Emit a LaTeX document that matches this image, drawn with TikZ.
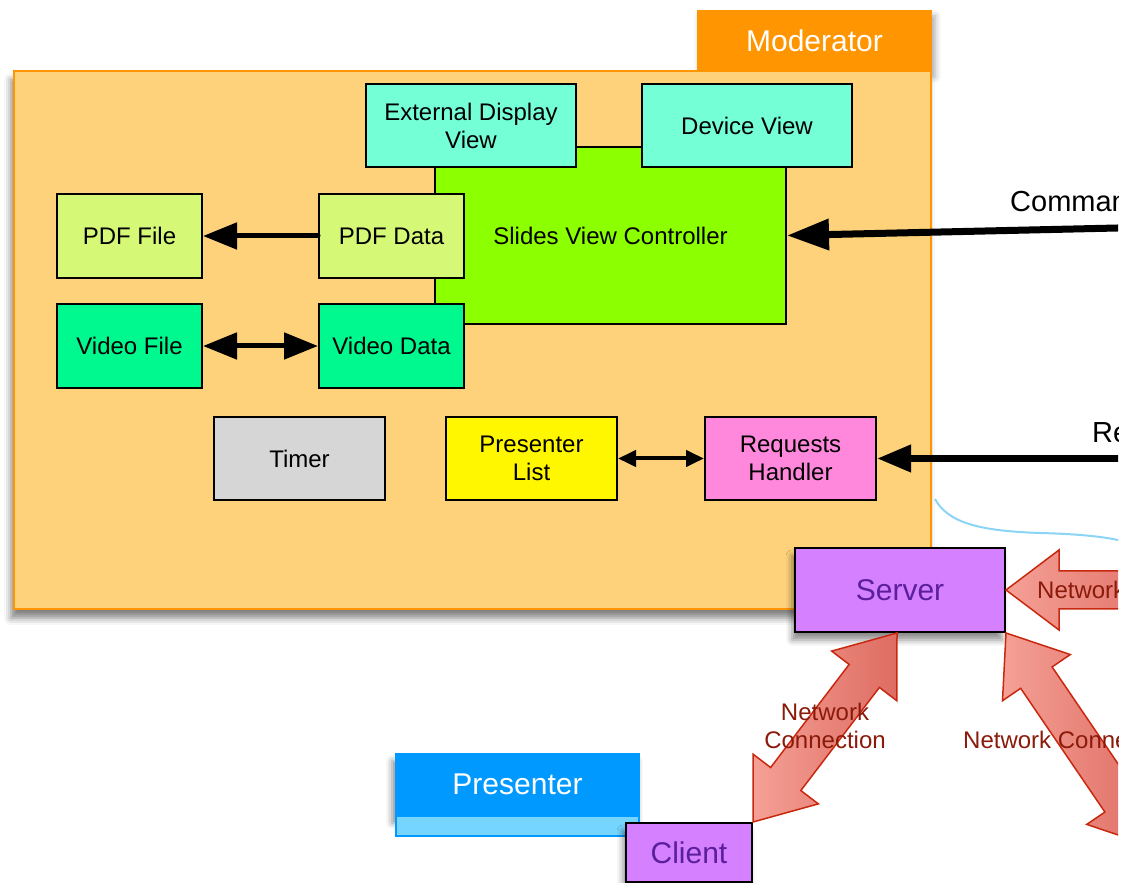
\documentclass[tikz,border=0pt]{standalone}
\usepackage{fontspec}
\setmainfont{Liberation Sans}
\usetikzlibrary{arrows.meta,calc,positioning,shadows,shadows.blur}

\definecolor{modfill}{RGB}{253,210,122}
\definecolor{modorange}{RGB}{255,149,0}
\definecolor{viewcol}{RGB}{116,255,214}
\definecolor{svccol}{RGB}{140,255,0}
\definecolor{pdfcol}{RGB}{213,249,119}
\definecolor{videocol}{RGB}{0,249,143}
\definecolor{timercol}{RGB}{214,214,214}
\definecolor{listcol}{RGB}{255,247,0}
\definecolor{reqcol}{RGB}{255,136,220}
\definecolor{servcol}{RGB}{213,128,255}
\definecolor{servtext}{RGB}{91,31,158}
\definecolor{presblue}{RGB}{0,153,255}
\definecolor{preslight}{RGB}{117,213,255}
\definecolor{netlight}{RGB}{245,160,150}
\definecolor{netdark}{RGB}{222,108,98}
\definecolor{netedge}{RGB}{200,40,15}
\definecolor{nettext}{RGB}{139,26,10}
\definecolor{wirecol}{RGB}{140,212,245}

\tikzset{
compbox/.style={
  rectangle,
  line width=2pt,
  draw=black,
  inner sep=0pt,
  align=center,
  font=\fontsize{24}{28}\selectfont,
  }
}
\tikzset{
bigbox/.style={
  rectangle,
  line width=2pt,
  draw=black,
  inner sep=0pt,
  align=center,
  fill=servcol,
  text=servtext,
  font=\fontsize{30}{34}\selectfont,
  blur shadow={shadow xshift=-3pt, shadow yshift=-8pt, shadow blur radius=6pt, shadow opacity=45},
  }
}
\tikzset{
tabbox/.style={
  rectangle,
  inner sep=0pt,
  text=white,
  font=\fontsize{30}{34}\selectfont,
  }
}
\tikzset{
fatline/.style={
  line width=5pt,
  line cap=round,
  -{Triangle[length=34pt,width=26pt]}
  }
}
\tikzset{
netlabel/.style={
  text=nettext,
  align=center,
  inner sep=0pt,
  font=\fontsize{24}{28}\selectfont,
  }
}
\tikzset{
netlink/.style={
  draw=netedge, line width=1.5pt, left color=netlight, right color=netdark,
  to path={
    let \p1=(\tikztostart), \p2=(\tikztotarget),
        \n1={atan2(\y2-\y1,\x2-\x1)}, \n2={veclen(\x2-\x1,\y2-\y1)} in
    -- ($(\p1)+(\n1:54pt)+(\n1+90:41pt)$)
    -- ($(\p1)+(\n1:54pt)+(\n1+90:19pt)$)
    -- ($(\p1)+(\n1:\n2-54pt)+(\n1+90:19pt)$)
    -- ($(\p1)+(\n1:\n2-54pt)+(\n1+90:41pt)$)
    -- (\p2)
    -- ($(\p1)+(\n1:\n2-54pt)+(\n1-90:41pt)$)
    -- ($(\p1)+(\n1:\n2-54pt)+(\n1-90:19pt)$)
    -- ($(\p1)+(\n1:54pt)+(\n1-90:19pt)$)
    -- ($(\p1)+(\n1:54pt)+(\n1-90:41pt)$)
    -- cycle
  }
  }
}
\tikzset{
netlinkone/.style={
  draw=netedge, line width=1.5pt, left color=netlight, right color=netdark,
  to path={
    let \p1=(\tikztostart), \p2=(\tikztotarget),
        \n1={atan2(\y2-\y1,\x2-\x1)}, \n2={veclen(\x2-\x1,\y2-\y1)} in
    ($(\p1)+(\n1+90:19pt)$)
    -- ($(\p1)+(\n1:\n2-53pt)+(\n1+90:19pt)$)
    -- ($(\p1)+(\n1:\n2-53pt)+(\n1+90:40pt)$)
    -- (\p2)
    -- ($(\p1)+(\n1:\n2-53pt)+(\n1-90:40pt)$)
    -- ($(\p1)+(\n1:\n2-53pt)+(\n1-90:19pt)$)
    -- ($(\p1)+(\n1-90:19pt)$)
    -- cycle
  }
  }
}

\begin{document}
\begin{tikzpicture}[x=1pt,y=1pt]
    \useasboundingbox (0,0) rectangle (1128,883);
    \clip (0,0) rectangle (1118,883);

    % moderator frame
    \node[tabbox, fill=modorange, minimum width=235, minimum height=61,
          blur shadow={shadow xshift=3pt, shadow yshift=-6pt, shadow blur radius=6pt, shadow opacity=35}] (modtab) at (814.5,842.5) {Moderator};
    \node[rectangle, draw=modorange, line width=1.5pt, fill=modfill, minimum width=917, minimum height=538,
          blur shadow={shadow xshift=-3pt, shadow yshift=-9pt, shadow blur radius=7pt, shadow opacity=50}] (modbox) at (472.5,543) {};

    % slides part
    \node[compbox, fill=svccol, minimum width=351, minimum height=177] (svc) at (610.5,647.5) {Slides View Controller};
    \node[compbox, fill=viewcol, minimum width=210, minimum height=83] (extview) at (471,757.5) {External Display\\View};
    \node[compbox, fill=viewcol, minimum width=210, minimum height=83] (devview) at (747,757.5) {Device View};

    % file part
    \node[compbox, fill=pdfcol, minimum width=145, minimum height=84] (pdffile) at (129.5,647) {PDF File};
    \node[compbox, fill=pdfcol, minimum width=145, minimum height=84] (pdfdata) at (391.5,647) {PDF Data};
    \node[compbox, fill=videocol, minimum width=145, minimum height=84] (videofile) at (129.5,537) {Video File};
    \node[compbox, fill=videocol, minimum width=145, minimum height=84] (videodata) at (391.5,537) {Video Data};

    % lower row
    \node[compbox, fill=timercol, minimum width=171, minimum height=83] (timer) at (299.5,424.5) {Timer};
    \node[compbox, fill=listcol, minimum width=171, minimum height=83] (plist) at (531.5,424.5) {Presenter\\List};
    \node[compbox, fill=reqcol, minimum width=171, minimum height=83] (reqh) at (790.5,424.5) {Requests\\Handler};

    % incoming
    \coordinate (cmdsrc) at (1140,655.5);
    \coordinate (reqsrc) at (1140,424.5);
    \coordinate (netsrc) at (1180,293);
    \coordinate (peer) at (1151,37);
    \node[anchor=west, inner sep=0pt, font=\fontsize{29}{32}\selectfont] (cmdlabel) at (1010,682) {Commands};
    \node[anchor=west, inner sep=0pt, font=\fontsize{29}{32}\selectfont] (reqlabel) at (1092,447) {Requests};

    % box edges
    \draw[fatline] (pdfdata) -- (pdffile);
    \draw[fatline, {Triangle[length=34pt,width=26pt]}-{Triangle[length=34pt,width=26pt]}] (videofile) -- (videodata);
    \draw[line width=4pt, {Triangle[length=18pt,width=16pt]}-{Triangle[length=18pt,width=16pt]}] (plist) -- (reqh);
    \draw[line width=7pt, -{Triangle[length=42pt,width=30pt]}] (cmdsrc) -- (svc.east);
    \draw[line width=7pt, -{Triangle[length=34pt,width=26pt]}] (reqsrc) -- (reqh.east);

    % wire
    \draw[wirecol, line width=2pt] (935,384) .. controls (948,360) and (980,352) .. (1040,350)
        .. controls (1080,349) and (1110,346) .. (1130,340);

    % presenter part
    \node[tabbox, fill=presblue, minimum width=245, minimum height=62,
          blur shadow={shadow xshift=-3pt, shadow yshift=-8pt, shadow blur radius=6pt, shadow opacity=45}] (presenter) at (517.5,99) {Presenter};
    \node[rectangle, draw=presblue, line width=1.5pt, fill=preslight, minimum width=243, minimum height=20,
          below=0pt of presenter] (presstrip) {};

    % server and client
    \node[bigbox, minimum width=210, minimum height=84] (server) at (900,293) {Server};
    \node[bigbox, minimum width=126, minimum height=59] (client) at (689,30.5) {Client};

    % network edges
    \draw[netlink] ([xshift=-3pt]server.south) to (client.north east);
    \draw[netlink] (server.south east) to (peer);
    \draw[netlinkone] (netsrc) to (server.east);
    \node[netlabel] (netlab1) at (825,157) {Network\\Connection};
    \node[netlabel, anchor=west] (netlab2) at (963,143) {Network Connection};
    \node[netlabel, anchor=west] (netlab3) at (1037,293) {Network Connection};
\end{tikzpicture}
\end{document}
